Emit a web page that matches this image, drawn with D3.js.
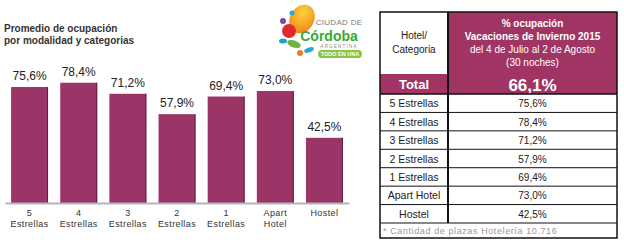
<!DOCTYPE html>
<html>
<head>
<meta charset="utf-8">
<script src="https://cdn.jsdelivr.net/npm/d3@7"></script>
<style>
  body { margin: 0; background: #fff; }
  svg { display: block; font-family: Arial, "Liberation Sans", sans-serif; }
</style>
</head>
<body>
<svg id="chart" width="624" height="247"></svg>
<script>
// data
var categories = ["5 Estrellas", "4 Estrellas", "3 Estrellas", "2 Estrellas", "1 Estrellas", "Apart Hotel", "Hostel"];
var values = [75.6, 78.4, 71.2, 57.9, 69.4, 73.0, 42.5];
var totalValue = 66.1;
var titleLines = ["Promedio de ocupación", "por modalidad y categorias"];
var headerLeft = ["Hotel/", "Categoria"];
var headerRight = ["% ocupación", "Vacaciones de Invierno 2015", "del 4 de Julio al 2 de Agosto", "(30 noches)"];
var footnote = "* Cantidad de plazas Hotelería 10.716";

var maroon = "#9b3467";
var svg = d3.select("#chart");

var es = d3.formatLocale({decimal: ",", thousands: ".", grouping: [3], currency: ["$", ""]});
var pct = function(v) { return es.format(".1f")(v) + "%"; };

// ---- bar chart ----
var x = d3.scaleBand()
  .domain(categories)
  .range([5, 349])
  .paddingInner(0.248)
  .paddingOuter(0.124);

var y = d3.scaleLinear()
  .domain([0, 100])
  .range([203, 49.6]);

var title = svg.append("text")
  .attr("x", 4)
  .attr("y", 32)
  .style("font-size", "10px")
  .style("font-weight", "bold")
  .attr("fill", "#333");
title.selectAll("tspan").data(titleLines).enter().append("tspan")
  .attr("x", 4)
  .attr("dy", function(d, i) { return i ? 12 : 0; })
  .text(function(d) { return d; });

var bars = svg.append("g");
bars.selectAll("rect").data(values).enter().append("rect")
  .attr("x", function(d, i) { return x(categories[i]); })
  .attr("y", function(d) { return y(d); })
  .attr("width", x.bandwidth())
  .attr("height", function(d) { return y(0) - y(d); })
  .attr("fill", maroon);
// darker right edge
bars.selectAll("line").data(values).enter().append("line")
  .attr("x1", function(d, i) { return x(categories[i]) + x.bandwidth() - 0.5; })
  .attr("x2", function(d, i) { return x(categories[i]) + x.bandwidth() - 0.5; })
  .attr("y1", function(d) { return y(d); })
  .attr("y2", y(0))
  .attr("stroke", "#5e1f3e")
  .attr("stroke-width", 1);

svg.append("g").selectAll("text").data(values).enter().append("text")
  .attr("x", function(d, i) { return x(categories[i]) + x.bandwidth() / 2; })
  .attr("y", function(d) { return y(d) - 7; })
  .attr("text-anchor", "middle")
  .style("font-size", "12px")
  .attr("fill", "#222")
  .text(function(d) { return pct(d); });

var xAxis = svg.append("g")
  .attr("transform", "translate(0," + y(0) + ")")
  .call(d3.axisBottom(x).tickSize(0).tickPadding(0).tickSizeOuter(0));
xAxis.select(".domain").attr("stroke", "#b5b5b5").attr("stroke-width", 2);
xAxis.selectAll(".tick text").each(function(d) {
  var t = d3.select(this);
  var parts = d.split(" ");
  t.text(null)
    .attr("y", 0)
    .attr("dy", null)
    .attr("fill", "#333")
    .style("font-size", "9px")
    .style("font-family", "Arial, 'Liberation Sans', sans-serif")
    .style("letter-spacing", "0.4px");
  parts.forEach(function(p, i) {
    t.append("tspan").attr("x", 0).attr("y", 13 + i * 11).text(p);
  });
});

// ---- logo ----
var logo = svg.append("g");
var grad = svg.append("defs").append("radialGradient").attr("id", "sun")
  .attr("cx", "40%").attr("cy", "30%").attr("r", "70%");
grad.append("stop").attr("offset", "0%").attr("stop-color", "#fbd33a");
grad.append("stop").attr("offset", "100%").attr("stop-color", "#f08a1d");
logo.append("ellipse").attr("cx", 302).attr("cy", 19).attr("rx", 12).attr("ry", 15)
  .attr("transform", "rotate(30 302 19)").attr("fill", "url(#sun)");
logo.append("circle").attr("cx", 289).attr("cy", 31).attr("r", 7).attr("fill", "#e0282f");
logo.append("circle").attr("cx", 283).attr("cy", 21).attr("r", 3).attr("fill", "#7b4a9e");
logo.append("circle").attr("cx", 292).attr("cy", 13).attr("r", 2.5).attr("fill", "#2aa8d8");
logo.append("ellipse").attr("cx", 294).attr("cy", 44).attr("rx", 7).attr("ry", 3.5)
  .attr("transform", "rotate(20 294 44)").attr("fill", "#6cb33f");
logo.append("ellipse").attr("cx", 283).attr("cy", 41).attr("rx", 4).attr("ry", 2.5).attr("fill", "#1fa0c9");
logo.append("ellipse").attr("cx", 309).attr("cy", 50).attr("rx", 5).attr("ry", 2.5)
  .attr("transform", "rotate(-20 309 50)").attr("fill", "#2aa8d8");
logo.append("circle").attr("cx", 300).attr("cy", 53).attr("r", 3).attr("fill", "#f27b21");
logo.append("text").attr("x", 339).attr("y", 25).attr("text-anchor", "middle")
  .style("font-size", "8px").style("letter-spacing", "0.3px").attr("fill", "#7a7a7a").text("CIUDAD DE");
logo.append("text").attr("x", 329).attr("y", 41).attr("text-anchor", "middle")
  .style("font-size", "14px").style("font-weight", "bold").attr("fill", "#3aa935").text("Córdoba");
logo.append("text").attr("x", 339).attr("y", 47.5).attr("text-anchor", "middle")
  .style("font-size", "4.5px").style("letter-spacing", "1.2px").attr("fill", "#888").text("ARGENTINA");
logo.append("rect").attr("x", 318).attr("y", 50).attr("width", 44).attr("height", 8).attr("rx", 4)
  .attr("fill", "#8cc63f");
logo.append("text").attr("x", 340).attr("y", 56.3).attr("text-anchor", "middle")
  .style("font-size", "5.5px").style("font-weight", "bold").attr("fill", "#fff").text("TODO EN UNA");

// ---- table ----
var tL = 380, tR = 617, tMid = 448, tTop = 12, headBot = 74, totBot = 94, rowsBot = 223, tBot = 238;
var leftC = (tL + tMid) / 2, rightC = (tMid + tR) / 2;
var rowY = d3.scaleBand().domain(categories).range([totBot, rowsBot]);
var table = svg.append("g");

table.append("rect").attr("x", tMid).attr("y", tTop).attr("width", tR - tMid).attr("height", headBot - tTop).attr("fill", "#a03565");
table.append("rect").attr("x", tL).attr("y", headBot).attr("width", tR - tL).attr("height", totBot - headBot).attr("fill", "#a03565");

var ht = table.append("text").style("font-size", "10px").attr("fill", "#222").attr("text-anchor", "middle");
ht.selectAll("tspan").data(headerLeft).enter().append("tspan")
  .attr("x", leftC).attr("y", function(d, i) { return 39 + i * 14; }).text(function(d) { return d; });
var hr = table.append("text").style("font-size", "10px").attr("fill", "#fff").attr("text-anchor", "middle");
hr.selectAll("tspan").data(headerRight).enter().append("tspan")
  .attr("x", rightC).attr("y", function(d, i) { return 27 + i * 13; })
  .style("font-weight", function(d, i) { return i < 2 ? "bold" : "normal"; })
  .text(function(d) { return d; });

table.append("text").attr("x", leftC).attr("y", 89).attr("text-anchor", "middle")
  .style("font-size", "13px").style("font-weight", "bold").attr("fill", "#fff").text("Total");
table.append("text").attr("x", rightC).attr("y", 91).attr("text-anchor", "middle")
  .style("font-size", "17px").style("font-weight", "bold").attr("fill", "#fff").text(pct(totalValue));

var rows = table.selectAll("g.row").data(categories).enter().append("g").attr("class", "row");
rows.append("line")
  .attr("x1", tL).attr("x2", tR)
  .attr("y1", function(d) { return rowY(d) + rowY.bandwidth(); })
  .attr("y2", function(d) { return rowY(d) + rowY.bandwidth(); })
  .attr("stroke", "#111").attr("stroke-width", 1);
rows.append("text")
  .attr("x", leftC).attr("y", function(d) { return rowY(d) + rowY.bandwidth() / 2 + 4; })
  .attr("text-anchor", "middle").style("font-size", "10.5px").attr("fill", "#222")
  .text(function(d) { return d; });
rows.append("text")
  .attr("x", rightC).attr("y", function(d) { return rowY(d) + rowY.bandwidth() / 2 + 4; })
  .attr("text-anchor", "middle").style("font-size", "10px").attr("fill", "#222")
  .text(function(d, i) { return pct(values[i]); });

table.append("line").attr("x1", tL).attr("x2", tR).attr("y1", totBot).attr("y2", totBot)
  .attr("stroke", "#111").attr("stroke-width", 1.5);
table.append("line").attr("x1", tMid).attr("x2", tMid).attr("y1", tTop).attr("y2", rowsBot)
  .attr("stroke", "#111").attr("stroke-width", 2);
table.append("rect").attr("x", tL).attr("y", tTop).attr("width", tR - tL).attr("height", tBot - tTop)
  .attr("fill", "none").attr("stroke", "#111").attr("stroke-width", 1.5);

table.append("text").attr("x", tL + 3).attr("y", 234)
  .style("font-size", "9px").style("letter-spacing", "0.6px").attr("fill", "#999").text(footnote);
</script>
</body>
</html>
